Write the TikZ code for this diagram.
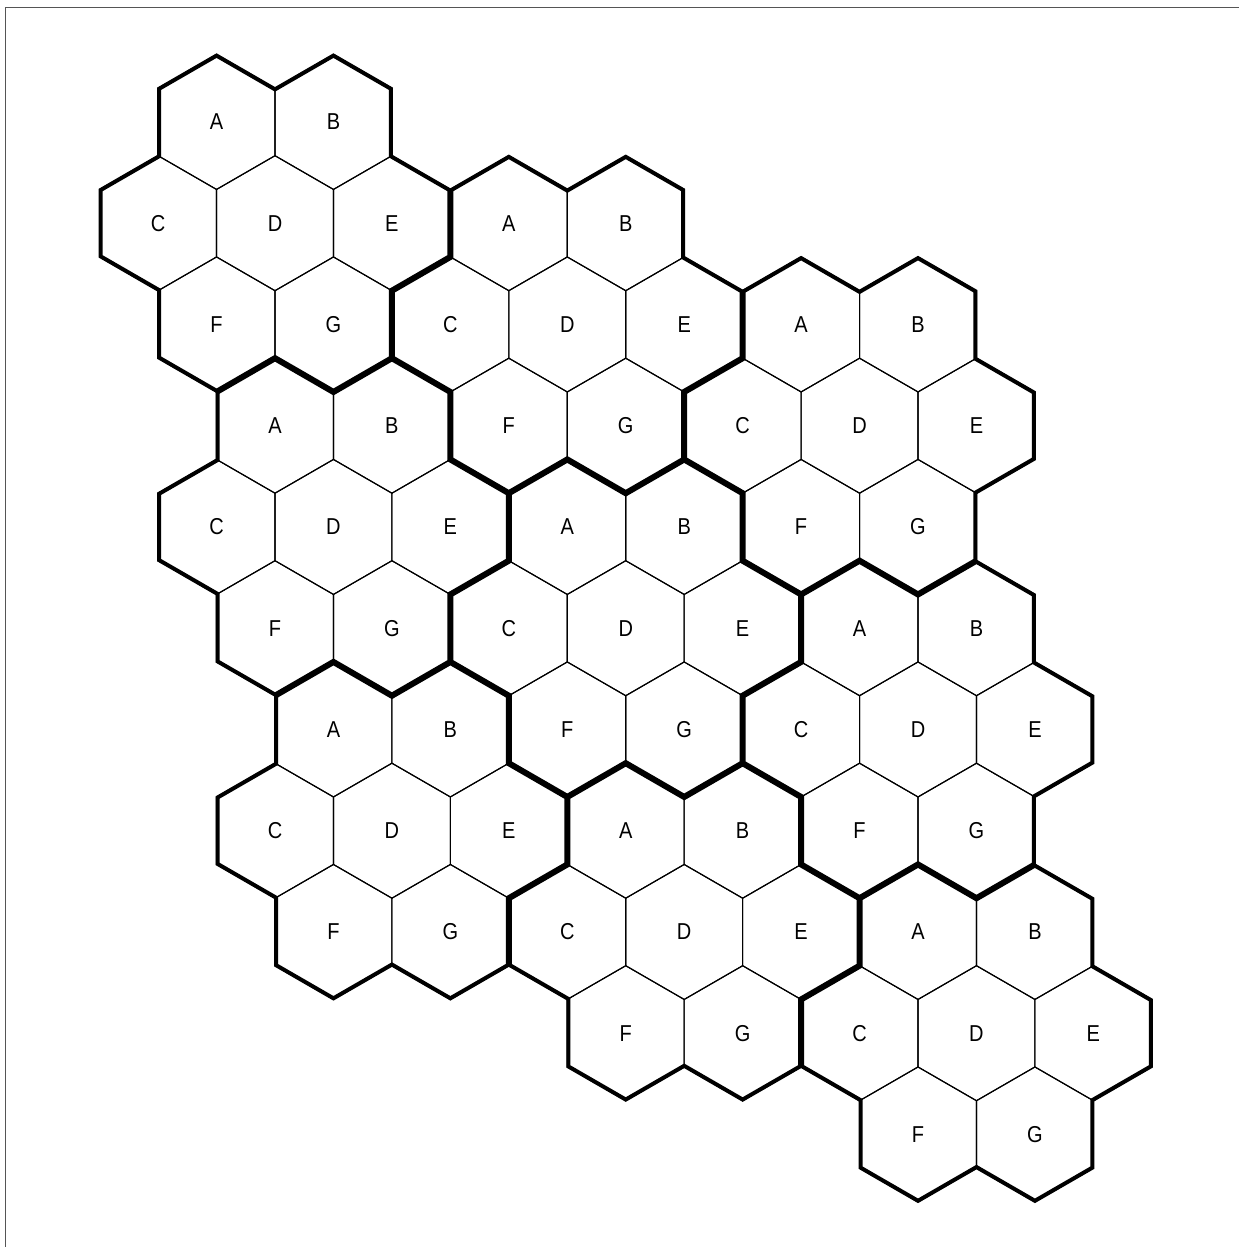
\documentclass[tikz,border=0pt]{standalone}
\usepackage{fontspec}
\setmainfont{Liberation Sans}[FakeStretch=0.87]
\definecolor{framegray}{RGB}{85,85,85}
\newcommand\myoutline{(2,-1) -- (3,-.5) -- (3,.5) -- (2,1) -- (2,2) -- (1,2.5) -- (0,2) -- (-1,2.5) -- (-2,2) -- (-2,1) -- (-3,.5) -- (-3,-.5) -- (-2,-1) -- (-2,-2) -- (-1,-2.5) -- (0,-2) -- (1,-2.5) -- (2,-2) -- cycle}
\begin{document}
\begin{tikzpicture}[x=0.5pt,y=-0.5pt,
  inner/.style={line width=0.55pt, line join=miter},
  outerin/.style={line width=3pt, line join=miter},
  outerc/.style={line width=1pt, line join=miter},
  frame/.style={line width=0.7pt, draw=framegray},
  lbl/.style={font=\fontsize{11.5}{13}\selectfont, inner sep=0pt}]
\useasboundingbox (0,0) rectangle (1239,1247);
\draw[frame] (5.5,1247) -- (5.5,7.5) -- (1239,7.5);
\begin{scope}[shift={(275,223.2)}, x={(29.2275pt,0pt)}, y={(0pt,-33.75pt)}]
\foreach \i in {0,1,2}{
 \foreach \j in {0,1,2}{
  \pgfmathsetmacro\ox{5*\i+\j}
  \pgfmathsetmacro\oy{1.5*\i+4.5*\j}
  \begin{scope}[shift={(\ox,\oy)}]
   \foreach \cx/\cy/\l in {-1/-1.5/A,1/-1.5/B,-2/0/C,0/0/D,2/0/E,-1/1.5/F,1/1.5/G}{
     \draw[inner] (\cx,\cy) +(1,-0.5) -- +(1,0.5) -- +(0,1) -- +(-1,0.5) -- +(-1,-0.5) -- +(0,-1) -- cycle;
     \node[lbl] (h\i\j\l) at (\cx,\cy) {\l};
   }
   \begin{scope}
    \clip \myoutline;
    \draw[outerin] \myoutline;
   \end{scope}
   \draw[outerc] \myoutline;
  \end{scope}
 }
}
\end{scope}
\end{tikzpicture}
\end{document}
